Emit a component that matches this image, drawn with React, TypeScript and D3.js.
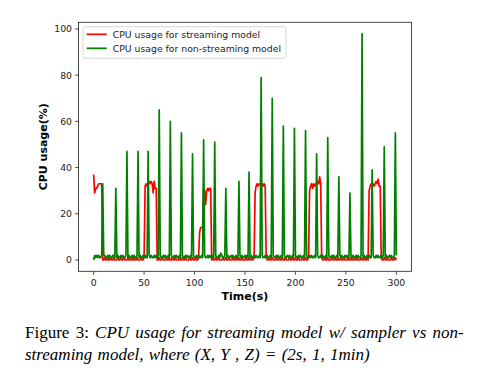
import React from "react";
import * as d3 from "d3";

const W = 480;
const H = 383;

const xTicks = [0, 50, 100, 150, 200, 250, 300];
const yTicks = [0, 20, 40, 60, 80, 100];

const seriesNames = ["CPU usage for streaming model", "CPU usage for non-streaming model"];
const seriesColors = ["#ff0000", "#008000"];

// CPU usage (%) sampled every second, t = 0..300
const streamingCpu = [
  37, 29, 31, 31, 32, 33, 33, 33, 33, 0, 0, 1, 0, 0, 1, 0, 0, 1, 0, 0,
  1, 0, 0, 0, 1, 0, 0, 1, 0, 0, 1, 0, 0, 0, 1, 0, 0, 1, 0, 0,
  1, 0, 0, 1, 0, 0, 0, 1, 0, 0, 1, 32, 33, 32, 33, 34, 33, 34, 33, 29,
  34, 31, 31, 0, 0, 1, 0, 0, 1, 0, 0, 0, 1, 0, 0, 1, 0, 0, 1, 0,
  0, 1, 0, 0, 0, 1, 0, 0, 1, 0, 0, 1, 0, 0, 0, 1, 0, 0, 1, 0,
  0, 1, 0, 0, 1, 12, 14, 14, 14, 31, 30, 24, 30, 31, 30, 31, 31, 0, 1, 0,
  0, 1, 0, 0, 1, 0, 0, 0, 1, 0, 0, 1, 0, 0, 1, 0, 0, 0, 1, 0,
  0, 1, 0, 0, 1, 0, 0, 1, 0, 0, 0, 1, 0, 0, 1, 0, 0, 1, 0, 1,
  29, 32, 33, 32, 33, 33, 32, 33, 32, 33, 32, 1, 0, 0, 1, 0, 0, 1, 0, 0,
  0, 1, 0, 0, 1, 0, 0, 1, 0, 0, 1, 0, 0, 0, 1, 0, 0, 1, 0, 0,
  1, 0, 0, 1, 0, 0, 0, 1, 0, 0, 1, 0, 0, 1, 30, 32, 33, 31, 33, 32,
  33, 33, 34, 33, 36, 33, 1, 0, 0, 1, 0, 0, 1, 0, 0, 0, 1, 0, 0, 1,
  0, 0, 1, 0, 0, 1, 0, 0, 1, 0, 0, 0, 1, 0, 0, 1, 0, 0, 1, 0,
  0, 1, 0, 0, 0, 1, 0, 0, 1, 0, 0, 1, 0, 30, 32, 33, 33, 33, 32, 33,
  34, 33, 35, 32, 32, 1, 0, 0, 1, 0, 0, 1, 0, 0, 0, 1, 0, 0, 1, 0,
  1,
];

const nonStreamingCpu = [
  0, 2, 1, 2, 1, 2, 1, 1, 2, 33, 2, 2, 1, 1, 2, 1, 2, 1, 1, 2,
  2, 1, 31, 1, 2, 1, 1, 2, 1, 2, 1, 1, 2, 47, 1, 2, 1, 1, 2, 1,
  2, 1, 1, 2, 47, 1, 2, 1, 1, 2, 1, 2, 1, 1, 47, 2, 1, 2, 1, 1,
  2, 1, 2, 1, 1, 65, 2, 1, 1, 2, 1, 2, 1, 1, 2, 1, 60, 2, 1, 1,
  2, 1, 2, 1, 1, 2, 1, 55, 2, 1, 1, 2, 1, 2, 1, 1, 2, 1, 46, 2,
  1, 1, 2, 1, 2, 1, 1, 2, 1, 52, 2, 1, 1, 2, 1, 2, 1, 1, 2, 1,
  51, 2, 1, 1, 2, 1, 3, 2, 1, 1, 2, 31, 1, 2, 1, 1, 2, 1, 2, 1,
  1, 2, 1, 1, 34, 2, 1, 2, 1, 1, 2, 1, 2, 1, 38, 1, 2, 1, 1, 2,
  1, 2, 1, 1, 2, 1, 79, 2, 1, 1, 2, 1, 2, 1, 1, 2, 1, 70, 2, 1,
  1, 2, 1, 2, 1, 1, 2, 1, 58, 2, 1, 1, 2, 1, 2, 1, 1, 2, 1, 57,
  2, 1, 1, 2, 1, 2, 1, 1, 2, 1, 56, 2, 1, 1, 2, 1, 2, 1, 1, 2,
  1, 46, 2, 1, 1, 2, 1, 2, 1, 1, 2, 1, 53, 2, 1, 1, 2, 1, 2, 1,
  1, 2, 1, 36, 2, 1, 2, 1, 1, 2, 1, 2, 1, 1, 29, 2, 1, 2, 1, 1,
  2, 1, 2, 1, 1, 2, 98, 1, 2, 1, 1, 2, 1, 2, 1, 1, 39, 2, 1, 1,
  2, 1, 2, 1, 1, 2, 1, 2, 49, 1, 2, 1, 1, 2, 1, 2, 1, 1, 2, 55,
  2,
];

const captionLine1Roman = "Figure 3: ";
const captionLine1Italic = "CPU usage for streaming model w/ sampler vs non-";
const captionLine2 = "streaming model, where (X, Y , Z) = (2s, 1, 1min)";

export default function App() {
  const x = d3.scaleLinear().domain([-15, 315]).range([78.5, 411.5]);
  const y = d3.scaleLinear().domain([-4.9, 102.9]).range([271.3, 22.3]);
  const line = d3
    .line<number>()
    .x((_, i) => x(i))
    .y((d) => y(d));

  const left = x.range()[0];
  const right = x.range()[1];
  const top = y.range()[1];
  const bottom = y.range()[0];
  const tickFont = "DejaVu Sans, sans-serif";
  const serif = "Liberation Serif, Times New Roman, serif";

  return (
    <svg
      width={W}
      height={H}
      style={{ position: "absolute", left: 0, top: 0, background: "#fff" }}
    >
      <rect x={0} y={0} width={W} height={H} fill="#fff" />
      <defs>
        <clipPath id="plotclip">
          <rect x={left} y={top} width={right - left} height={bottom - top} />
        </clipPath>
      </defs>
      <g clipPath="url(#plotclip)">
        <path d={line(streamingCpu) || ""} fill="none" stroke={seriesColors[0]} strokeWidth={1.7} strokeLinejoin="round" />
        <path d={line(nonStreamingCpu) || ""} fill="none" stroke={seriesColors[1]} strokeWidth={1.7} strokeLinejoin="round" />
      </g>
      <rect x={left} y={top} width={right - left} height={bottom - top} fill="none" stroke="#333" strokeWidth={0.9} />
      {xTicks.map((t) => (
        <g key={"x" + t}>
          <line x1={x(t)} x2={x(t)} y1={bottom} y2={bottom + 3.3} stroke="#333" strokeWidth={0.9} />
          <text x={x(t)} y={285.5} textAnchor="middle" fontFamily={tickFont} fontSize={9.3} fill="#222">
            {t}
          </text>
        </g>
      ))}
      {yTicks.map((t) => (
        <g key={"y" + t}>
          <line x1={left - 3.3} x2={left} y1={y(t)} y2={y(t)} stroke="#333" strokeWidth={0.9} />
          <text x={72} y={y(t) + 3.4} textAnchor="end" fontFamily={tickFont} fontSize={9.3} fill="#222">
            {t}
          </text>
        </g>
      ))}
      <text x={(left + right) / 2} y={300} textAnchor="middle" fontFamily={tickFont} fontWeight="bold" fontSize={11} fill="#000">
        Time(s)
      </text>
      <text
        transform={`translate(46.5,${(top + bottom) / 2}) rotate(-90)`}
        textAnchor="middle"
        fontFamily={tickFont}
        fontWeight="bold"
        fontSize={11}
        fill="#000"
      >
        CPU usage(%)
      </text>
      <g>
        <rect x={83} y={26.7} width={203} height={31.6} rx={2} fill="#fff" fillOpacity={0.8} stroke="#ccc" strokeWidth={0.8} />
        {seriesNames.map((n, i) => (
          <g key={n}>
            <line x1={86.7} x2={106.7} y1={34.3 + i * 14} y2={34.3 + i * 14} stroke={seriesColors[i]} strokeWidth={1.7} />
            <text x={112.7} y={37.6 + i * 14} fontFamily={tickFont} fontSize={9.3} fill="#222">
              {n}
            </text>
          </g>
        ))}
      </g>
      <text x={25} y={338.3} fontFamily={serif} fontSize={17} fill="#000" style={{ wordSpacing: "2px" }}>
        <tspan>{captionLine1Roman}</tspan>
        <tspan fontStyle="italic">{captionLine1Italic}</tspan>
      </text>
      <text x={25} y={359.5} fontFamily={serif} fontSize={17} fontStyle="italic" fill="#000" style={{ wordSpacing: "1px" }}>
        {captionLine2}
      </text>
    </svg>
  );
}
